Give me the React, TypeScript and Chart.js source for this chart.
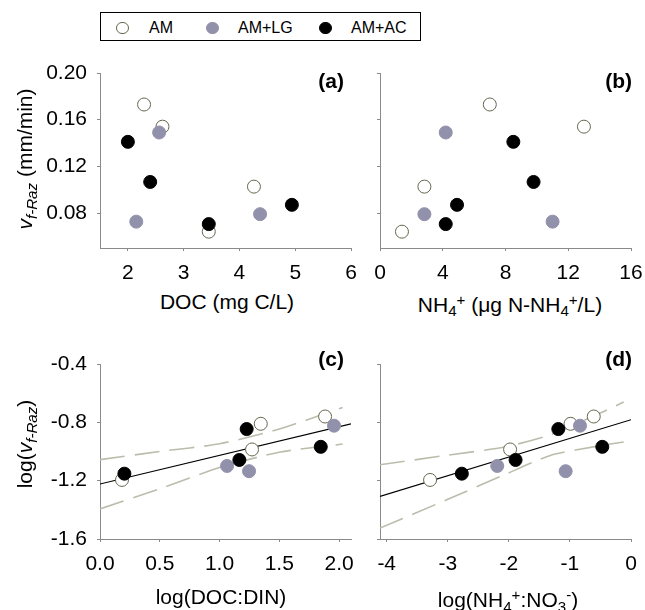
import React, { useEffect, useRef } from 'react';
import { Chart, registerables } from 'chart.js';
Chart.register(...registerables);

const FONT = "'Liberation Sans', Arial, Helvetica, sans-serif";
const AXIS = '#8a8a8a';
const AM_FILL = '#ffffff';
const AM_EDGE = '#66664f';
const LG_FILL = '#9191ab';
const AC_FILL = '#000000';
const BAND = '#bcbcad';

// ---- values ----
// AM treatment (open circles)
const amDOC = [2.29, 2.62, 3.45, 4.26];
const amNH4 = [7.0, 13.0, 1.4, 2.83];
const amVf = [0.173, 0.154, 0.064, 0.1026];
const amLogDOCDIN = [1.883, 1.345, 0.184, 1.272];
const amLogNH4NO3 = [-0.61, -0.99, -3.29, -1.98];
const amLogVf = [-0.76, -0.81, -1.195, -0.986];
// AM+LG (grey circles)
const lgDOC = [2.56, 2.15, 4.37];
const lgNH4 = [4.19, 11.0, 2.83];
const lgVf = [0.149, 0.0726, 0.079];
const lgLogDOCDIN = [1.958, 1.247, 1.063];
const lgLogNH4NO3 = [-0.835, -1.07, -2.19];
const lgLogVf = [-0.823, -1.135, -1.099];
// AM+AC (black circles)
const acDOC = [2.0, 2.4, 3.45, 4.94];
const acNH4 = [8.5, 9.79, 4.19, 4.91];
const acVf = [0.141, 0.1066, 0.0705, 0.087];
const acLogDOCDIN = [1.227, 1.847, 0.204, 1.166];
const acLogNH4NO3 = [-1.19, -0.47, -2.77, -1.89];
const acLogVf = [-0.846, -0.968, -1.152, -1.058];

// regression line and confidence band, panel (c)
const fitCX = [0, 2.1];
const fitCY = [-1.223, -0.811];
const bandCX = [0, 0.5, 1.0, 1.5, 2.03];
const bandCUpper = [-1.056, -1.0, -0.947, -0.846, -0.698];
const bandCLower = [-1.394, -1.255, -1.11, -1.005, -0.949];
// regression line and confidence band, panel (d)
const fitDX = [-4.11, 0];
const fitDY = [-1.308, -0.782];
const bandDX = [-4.11, -3.0, -2.07, -1.32, -0.5, -0.12];
const bandDUpper = [-1.091, -1.025, -0.969, -0.885, -0.736, -0.661];
const bandDLower = [-1.525, -1.328, -1.159, -1.027, -0.96, -0.935];

// tick labels
const ticksDOC = [2, 3, 4, 5, 6];
const ticksNH4 = [0, 4, 8, 12, 16];
const ticksVf = [0.08, 0.12, 0.16, 0.2];
const ticksDOCDIN = [0, 0.5, 1.0, 1.5, 2.0];
const ticksNH4NO3 = [-4, -3, -2, -1, 0];
const ticksLogVf = [-1.6, -1.2, -0.8, -0.4];

const pts = (xs: number[], ys: number[]) => xs.map((x, i) => ({ x, y: ys[i] }));

function pointSets(xAM: number[], yAM: number[], xLG: number[], yLG: number[], xAC: number[], yAC: number[]) {
  const base = { pointRadius: 6.5, pointHoverRadius: 6.5, pointBorderWidth: 1, showLine: false };
  return [
    { ...base, label: 'AM+AC', data: pts(xAC, yAC), pointBackgroundColor: AC_FILL, pointBorderColor: AC_FILL, backgroundColor: AC_FILL, borderColor: AC_FILL, order: 1 },
    { ...base, label: 'AM+LG', data: pts(xLG, yLG), pointBackgroundColor: LG_FILL, pointBorderColor: LG_FILL, backgroundColor: LG_FILL, borderColor: LG_FILL, order: 2 },
    { ...base, label: 'AM', data: pts(xAM, yAM), pointBackgroundColor: AM_FILL, pointBorderColor: AM_EDGE, backgroundColor: AM_FILL, borderColor: AM_EDGE, order: 3 },
  ];
}

function lineSets(fx: number[], fy: number[], bx: number[], bu: number[], bl: number[]) {
  const base = { showLine: true, pointRadius: 0, pointHoverRadius: 0, fill: false };
  return [
    { ...base, label: 'fit', data: pts(fx, fy), borderColor: '#000', borderWidth: 1.2, order: 4 },
    { ...base, label: 'upper', data: pts(bx, bu), borderColor: BAND, borderWidth: 1.6, borderDash: [25, 10], tension: 0.25, order: 5 },
    { ...base, label: 'lower', data: pts(bx, bl), borderColor: BAND, borderWidth: 1.6, borderDash: [25, 10], tension: 0.25, order: 6 },
  ];
}

type AxisSpec = { min: number; max: number; ticks: number[]; dec: number; labels: boolean };
type PanelProps = {
  left: number; top: number; w: number; h: number;
  pad: { left: number; top: number; right: number; bottom: number };
  yW: number; xH: number;
  x: AxisSpec; y: AxisSpec;
  sets: any[];
};

function Panel(p: PanelProps) {
  const ref = useRef<HTMLCanvasElement>(null);
  useEffect(() => {
    const chart = new Chart(ref.current as HTMLCanvasElement, {
      type: 'scatter',
      data: { datasets: p.sets },
      options: {
        responsive: false,
        animation: false,
        devicePixelRatio: 1,
        events: [],
        layout: { padding: p.pad },
        plugins: { legend: { display: false }, tooltip: { enabled: false } },
        scales: {
          x: {
            type: 'linear',
            min: p.x.min,
            max: p.x.max,
            border: { color: AXIS, width: 1 },
            grid: { drawOnChartArea: false, color: AXIS, tickLength: 3, lineWidth: 1 },
            ticks: {
              display: p.x.labels,
              font: { family: FONT, size: 21 },
              color: '#000',
              padding: 10,
              maxRotation: 0,
              autoSkip: false,
              callback: (v: any) => Number(v).toFixed(p.x.dec),
            },
            afterBuildTicks: (s: any) => { s.ticks = p.x.ticks.map((v) => ({ value: v })); },
            afterFit: (s: any) => { s.height = p.xH; s.paddingLeft = 0; s.paddingRight = 0; s.paddingTop = 0; s.paddingBottom = 0; },
          },
          y: {
            type: 'linear',
            min: p.y.min,
            max: p.y.max,
            border: { color: AXIS, width: 1 },
            grid: { drawOnChartArea: false, color: AXIS, tickLength: 3, lineWidth: 1 },
            ticks: {
              display: p.y.labels,
              font: { family: FONT, size: 21 },
              color: '#000',
              padding: 10,
              autoSkip: false,
              callback: (v: any) => Number(v).toFixed(p.y.dec),
            },
            afterBuildTicks: (s: any) => { s.ticks = p.y.ticks.map((v) => ({ value: v })); },
            afterFit: (s: any) => { s.width = p.yW; s.paddingLeft = 0; s.paddingRight = 0; s.paddingTop = 0; s.paddingBottom = 0; },
          },
        },
      } as any,
    });
    return () => chart.destroy();
  }, []);
  return (
    <canvas
      ref={ref}
      width={p.w}
      height={p.h}
      style={{ position: 'absolute', left: p.left, top: p.top, width: p.w, height: p.h, display: 'block' }}
    />
  );
}

const textBase: React.CSSProperties = {
  position: 'absolute',
  fontFamily: FONT,
  fontSize: 21,
  lineHeight: 1,
  color: '#000',
  whiteSpace: 'nowrap',
};

const Sub = ({ children }: { children: React.ReactNode }) => (
  <span style={{ fontSize: '0.72em', position: 'relative', top: '0.32em' }}>{children}</span>
);
const Sup = ({ children }: { children: React.ReactNode }) => (
  <span style={{ fontSize: '0.72em', position: 'relative', top: '-0.45em' }}>{children}</span>
);

function HTitle({ cx, top, children }: { cx: number; top: number; children: React.ReactNode }) {
  return <div style={{ ...textBase, left: cx, top, transform: 'translateX(-50%)' }}>{children}</div>;
}
function VTitle({ cx, cy, children }: { cx: number; cy: number; children: React.ReactNode }) {
  return (
    <div style={{ ...textBase, left: cx, top: cy, transform: 'translate(-50%, -50%) rotate(-90deg)' }}>{children}</div>
  );
}
function PanelLabel({ right, top, text }: { right: number; top: number; text: string }) {
  return (
    <div style={{ ...textBase, left: 0, width: right, top, textAlign: 'right', fontWeight: 'bold' }}>{text}</div>
  );
}

function LegendItem({ cx, tx, fill, edge, label }: { cx: number; tx: number; fill: string; edge: string; label: string }) {
  return (
    <>
      <div style={{ position: 'absolute', left: cx - 6, top: 21.5, width: 10.5, height: 10.5, borderRadius: '50%', background: fill, border: `1px solid ${edge}` }} />
      <div style={{ ...textBase, fontSize: 16, left: tx, top: 19.8 }}>{label}</div>
    </>
  );
}

export default function App() {
  const setsA = pointSets(amDOC, amVf, lgDOC, lgVf, acDOC, acVf);
  const setsB = pointSets(amNH4, amVf, lgNH4, lgVf, acNH4, acVf);
  const setsC = [
    ...pointSets(amLogDOCDIN, amLogVf, lgLogDOCDIN, lgLogVf, acLogDOCDIN, acLogVf),
    ...lineSets(fitCX, fitCY, bandCX, bandCUpper, bandCLower),
  ];
  const setsD = [
    ...pointSets(amLogNH4NO3, amLogVf, lgLogNH4NO3, lgLogVf, acLogNH4NO3, acLogVf),
    ...lineSets(fitDX, fitDY, bandDX, bandDUpper, bandDLower),
  ];

  const vfAxis = (labels: boolean): AxisSpec => ({ min: 0.05, max: 0.2, ticks: ticksVf, dec: 2, labels });
  const logVfAxis = (labels: boolean): AxisSpec => ({ min: -1.6, max: -0.4, ticks: ticksLogVf, dec: 1, labels });

  return (
    <div style={{ position: 'absolute', left: 0, top: 0, width: 645, height: 610, background: '#fff', overflow: 'hidden' }}>
      <Panel
        left={0} top={60} w={360} h={230}
        pad={{ left: 0, top: 13, right: 9, bottom: 0 }}
        yW={100} xH={42}
        x={{ min: 1.5, max: 6, ticks: ticksDOC, dec: 0, labels: true }}
        y={vfAxis(true)}
        sets={setsA}
      />
      <Panel
        left={360} top={60} w={285} h={230}
        pad={{ left: 0, top: 13, right: 14, bottom: 0 }}
        yW={20} xH={42}
        x={{ min: 0, max: 16, ticks: ticksNH4, dec: 0, labels: true }}
        y={vfAxis(false)}
        sets={setsB}
      />
      <Panel
        left={0} top={340} w={360} h={270}
        pad={{ left: 0, top: 24, right: 9, bottom: 0 }}
        yW={100} xH={71}
        x={{ min: 0, max: 2.1, ticks: ticksDOCDIN, dec: 1, labels: true }}
        y={logVfAxis(true)}
        sets={setsC}
      />
      <Panel
        left={360} top={340} w={285} h={270}
        pad={{ left: 0, top: 24, right: 14, bottom: 0 }}
        yW={20} xH={71}
        x={{ min: -4.11, max: 0, ticks: ticksNH4NO3, dec: 0, labels: true }}
        y={logVfAxis(false)}
        sets={setsD}
      />

      {/* legend */}
      <div style={{ position: 'absolute', left: 100, top: 12, width: 319, height: 27, border: '1px solid #000' }} />
      <LegendItem cx={122} tx={149} fill={AM_FILL} edge={AM_EDGE} label="AM" />
      <LegendItem cx={212} tx={238} fill={LG_FILL} edge={LG_FILL} label="AM+LG" />
      <LegendItem cx={325} tx={351} fill={AC_FILL} edge={AC_FILL} label="AM+AC" />

      {/* axis titles */}
      <VTitle cx={23.5} cy={158.5}>
        <i>v</i><Sub><i>f-Raz</i></Sub> (mm/min)
      </VTitle>
      <VTitle cx={23.5} cy={443.5}>
        log(<i>v</i><Sub><i>f-Raz</i></Sub>)
      </VTitle>
      <HTitle cx={227} top={290.5}>DOC (mg C/L)</HTitle>
      <HTitle cx={510} top={293.5}>
        NH<Sub>4</Sub><Sup>+</Sup> (μg N-NH<Sub>4</Sub><Sup>+</Sup>/L)
      </HTitle>
      <HTitle cx={221} top={586}>log(DOC:DIN)</HTitle>
      <HTitle cx={508} top={589}>
        log(NH<Sub>4</Sub><Sup>+</Sup>:NO<Sub>3</Sub><Sup>-</Sup>)
      </HTitle>

      {/* panel labels */}
      <PanelLabel right={344} top={69.5} text="(a)" />
      <PanelLabel right={632} top={69.5} text="(b)" />
      <PanelLabel right={344} top={348} text="(c)" />
      <PanelLabel right={632} top={348} text="(d)" />
    </div>
  );
}
